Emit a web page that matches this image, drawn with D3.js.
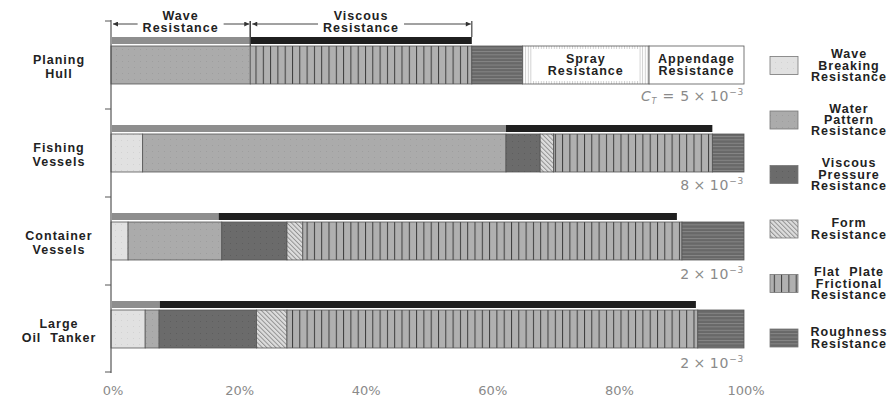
<!DOCTYPE html>
<html lang="en">
<head>
<meta charset="utf-8">
<title>Resistance components by ship type</title>
<script src="https://d3js.org/d3.v7.min.js"></script>
<style>
  body { margin: 0; background: #fff; }
  svg text { font-family: "DejaVu Sans", "Liberation Sans", sans-serif; }
  svg text.lbl { font-family: "Liberation Sans", Arial, sans-serif; font-weight: bold; font-size: 12.5px; letter-spacing: 1px; fill: #222; }
</style>
</head>
<body>
<div class="chart"></div>
<script>
// categories (top to bottom), "\n" = line break in label
const categories = ["Planing\nHull", "Fishing\nVessels", "Container\nVessels", "Large\nOil  Tanker"];

// share of total resistance, %
const waveBreaking    = [0,    5,    2.7,  5.4];
const waterPattern    = [22,   57.4, 14.8, 2.2];
const viscousPressure = [0,    5.4,  10.3, 15.4];
const form            = [0,    2.1,  2.5,  4.8];
const flatPlate       = [35,   25.1, 59.9, 64.9];
const roughness       = [8,    5,    9.8,  7.3];
const spray           = [20,   0,    0,    0];
const appendage       = [15,   0,    0,    0];

// thin bar above: wave resistance / viscous resistance
const waveTotal    = [22,   62.4, 17,   7.7];
const viscousTotal = [35,   32.6, 72.4, 84.7];

// total resistance coefficient C_T (x 10^-3)
const ctValue = [5, 8, 2, 2];

const xTicks = [0, 20, 40, 60, 80, 100];

const keys = ["waveBreaking", "waterPattern", "viscousPressure", "form", "flatPlate", "roughness", "spray", "appendage"];
const legendNames = ["Wave\nBreaking\nResistance", "Water\nPattern\nResistance", "Viscous\nPressure\nResistance",
                     "Form\nResistance", "Flat  Plate\nFrictional\nResistance", "Roughness\nResistance"];

const rows = categories.map((c, i) => ({
  cat: c,
  waveBreaking: waveBreaking[i], waterPattern: waterPattern[i], viscousPressure: viscousPressure[i],
  form: form[i], flatPlate: flatPlate[i], roughness: roughness[i], spray: spray[i], appendage: appendage[i],
  waveT: waveTotal[i], viscT: viscousTotal[i]
}));

const width = 893, height = 399;
const svg = d3.select(".chart").append("svg")
  .attr("width", width).attr("height", height);

const x = d3.scaleLinear().domain([0, 100]).range([111, 744]);
const y = d3.scaleBand().domain(categories).range([21, 373]).paddingInner(0);

// fills / patterns
const defs = svg.append("defs");
function pat(id, w, h, bg, draw, transform) {
  const p = defs.append("pattern").attr("id", id)
    .attr("patternUnits", "userSpaceOnUse").attr("width", w).attr("height", h);
  if (transform) p.attr("patternTransform", transform);
  p.append("rect").attr("width", w).attr("height", h).attr("fill", bg);
  draw(p);
}
pat("pWaveB", 6, 6, "#e1e1e1", p => p.append("rect").attr("x", 1).attr("y", 2).attr("width", 1).attr("height", 1).attr("fill", "#d2d2d2"));
pat("pWater", 6, 6, "#ababab", p => p.append("rect").attr("x", 2).attr("y", 1).attr("width", 1).attr("height", 1).attr("fill", "#9e9e9e"));
pat("pVisc", 6, 6, "#6b6b6b", p => p.append("rect").attr("x", 2).attr("y", 3).attr("width", 1).attr("height", 1).attr("fill", "#5e5e5e"));
pat("pForm", 3.2, 10, "#dddddd", p => p.append("line").attr("x1", 0.5).attr("x2", 0.5).attr("y1", 0).attr("y2", 10)
  .attr("stroke", "#8a8a8a").attr("stroke-width", 0.9), "rotate(-45)");
pat("pFlat", 7.3, 10, "#b0b0b0", p => p.append("line").attr("x1", 0.5).attr("x2", 0.5).attr("y1", 0).attr("y2", 10)
  .attr("stroke", "#3c3c3c").attr("stroke-width", 1));
pat("pRough", 6, 3.4, "#686868", p => p.append("line").attr("x1", 0).attr("x2", 6).attr("y1", 0.5).attr("y2", 0.5)
  .attr("stroke", "#909090").attr("stroke-width", 0.8));
pat("pSpray", 2.6, 10, "#ffffff", p => p.append("line").attr("x1", 0.5).attr("x2", 0.5).attr("y1", 0).attr("y2", 10)
  .attr("stroke", "#b8b8b8").attr("stroke-width", 0.7));

const fills = {
  waveBreaking: "url(#pWaveB)", waterPattern: "url(#pWater)", viscousPressure: "url(#pVisc)",
  form: "url(#pForm)", flatPlate: "url(#pFlat)", roughness: "url(#pRough)",
  spray: "url(#pSpray)", appendage: "#ffffff"
};

const thinY = 16, thinH = 7, mainY = 25, mainH = 38;

// thin bars (wave / viscous)
const thin = svg.append("g");
thin.selectAll(".tw").data(rows).join("rect")
  .attr("x", x(0) + 1).attr("y", d => y(d.cat) + thinY)
  .attr("width", d => x(d.waveT) - x(0) - 1).attr("height", thinH)
  .attr("fill", "#8e8e8e");
thin.selectAll(".tv").data(rows).join("rect")
  .attr("x", d => x(d.waveT)).attr("y", d => y(d.cat) + thinY)
  .attr("width", d => x(d.waveT + d.viscT) - x(d.waveT)).attr("height", thinH)
  .attr("fill", "#1f1f1f");

// stacked main bars
const stack = d3.stack().keys(keys)(rows);
const bars = svg.append("g");
stack.forEach(layer => {
  bars.selectAll(".s-" + layer.key).data(layer.filter(d => d[1] - d[0] > 0)).join("rect")
    .attr("x", d => x(d[0])).attr("y", d => y(d.data.cat) + mainY)
    .attr("width", d => x(d[1]) - x(d[0])).attr("height", mainH)
    .attr("fill", fills[layer.key])
    .attr("stroke", "#555").attr("stroke-width", 0.8);
});

// white centre of spray block, leaving the fine ticks at the edges
const sprayLayer = stack.find(s => s.key === "spray");
bars.selectAll(".spray-in").data(sprayLayer.filter(d => d[1] - d[0] > 0)).join("rect")
  .attr("x", d => x(d[0]) + 10).attr("y", d => y(d.data.cat) + mainY + 3)
  .attr("width", d => x(d[1]) - x(d[0]) - 20).attr("height", mainH - 6)
  .attr("fill", "#fff");

// labels inside the planing hull bar
[["spray", "Spray\nResistance"], ["appendage", "Appendage\nResistance"]].forEach(([k, label]) => {
  const layer = stack.find(s => s.key === k);
  layer.filter(d => d[1] - d[0] > 0).forEach(d => {
    const t = svg.append("text").attr("class", "lbl").attr("text-anchor", "middle");
    label.split("\n").forEach((line, j) => {
      t.append("tspan").attr("x", (x(d[0]) + x(d[1])) / 2)
        .attr("y", y(d.data.cat) + mainY + mainH / 2 - 2 + j * 12).text(line);
    });
  });
});

// y axis
const axis = svg.append("g").attr("stroke", "#555");
axis.append("line").attr("x1", x(0)).attr("x2", x(0)).attr("y1", y.range()[0] - 1).attr("y2", y.range()[1])
  .attr("stroke-width", 1.2);
const bounds = categories.map(c => y(c)).concat([y.range()[1] - 1]);
axis.selectAll(".tk").data(bounds).join("line")
  .attr("x1", x(0) - 6).attr("x2", x(0)).attr("y1", d => d).attr("y2", d => d).attr("stroke-width", 1);

// category labels
categories.forEach(c => {
  const lines = c.split("\n");
  const t = svg.append("text").attr("class", "lbl").attr("text-anchor", "middle").attr("xml:space", "preserve");
  const mid = y(c) + mainY + mainH / 2 + 1;
  lines.forEach((line, j) => {
    t.append("tspan").attr("x", 59).attr("y", mid - 2 + j * 13.5).text(line);
  });
});

// x tick labels
svg.append("g").selectAll("text").data(xTicks).join("text")
  .attr("x", d => x(d) + 2).attr("y", 395)
  .attr("text-anchor", "middle").attr("font-size", 13).attr("fill", "#8a8a8a")
  .text(d => d + "%");

// C_T labels
rows.forEach((d, i) => {
  const t = svg.append("text").attr("x", x(100)).attr("y", y(d.cat) + 80 + i * 1)
    .attr("text-anchor", "end").attr("font-size", 14).attr("letter-spacing", 0.8).attr("fill", "#8a8a8a");
  if (i === 0) {
    t.append("tspan").attr("font-style", "italic").text("C");
    t.append("tspan").attr("font-size", 8).attr("font-style", "italic").attr("dy", 3).text("T");
    t.append("tspan").attr("dy", -3).text(" = ");
  }
  t.append("tspan").text(ctValue[i] + "\u2009×\u200910");
  t.append("tspan").attr("font-size", 9).attr("dy", -6).text("−3");
});

// brackets above the planing hull bar
const p0 = rows[0];
const brackets = [
  { name: "Wave\nResistance", a: 0, b: p0.waveT },
  { name: "Viscous\nResistance", a: p0.waveT, b: p0.waveT + p0.viscT }
];
defs.append("marker").attr("id", "arr").attr("viewBox", "0 0 10 10")
  .attr("refX", 10).attr("refY", 5).attr("markerWidth", 7).attr("markerHeight", 5)
  .attr("orient", "auto-start-reverse").attr("markerUnits", "userSpaceOnUse")
  .append("path").attr("d", "M0,0L10,5L0,10z").attr("fill", "#333");

const br = svg.append("g");
brackets.forEach(bk => {
  const xa = x(bk.a) + 1, xb = x(bk.b), cx = (x(bk.a) + x(bk.b)) / 2;
  const t = br.append("text").attr("class", "lbl").attr("text-anchor", "middle");
  bk.name.split("\n").forEach((line, j) => {
    t.append("tspan").attr("x", cx).attr("y", 20 + j * 12).text(line);
  });
  const half = t.node().getBBox().width / 2 + 5;
  br.append("line").attr("x1", cx - half).attr("x2", xa + 1).attr("y1", 24).attr("y2", 24)
    .attr("stroke", "#444").attr("stroke-width", 1).attr("marker-end", "url(#arr)");
  br.append("line").attr("x1", cx + half).attr("x2", xb - 1).attr("y1", 24).attr("y2", 24)
    .attr("stroke", "#444").attr("stroke-width", 1).attr("marker-end", "url(#arr)");
  if (bk.a > 0) br.append("line").attr("x1", xa - 1).attr("x2", xa - 1).attr("y1", 21).attr("y2", y(p0.cat) + mainY)
    .attr("stroke", "#444").attr("stroke-width", 1.2);
  br.append("line").attr("x1", xb).attr("x2", xb).attr("y1", 21).attr("y2", y(p0.cat) + thinY)
    .attr("stroke", "#444").attr("stroke-width", 1.2);
});

// legend
const legend = svg.append("g");
legendNames.forEach((name, i) => {
  const cy = 65.5 + i * 54.5;
  legend.append("rect").attr("x", 770).attr("y", cy - 9).attr("width", 28).attr("height", 18)
    .attr("fill", fills[keys[i]]).attr("stroke", "#777").attr("stroke-width", 0.8);
  const lines = name.split("\n");
  const t = legend.append("text").attr("class", "lbl").attr("text-anchor", "middle").attr("xml:space", "preserve");
  lines.forEach((line, j) => {
    t.append("tspan").attr("x", 849).attr("y", cy + 4 + (j - (lines.length - 1) / 2) * 11.2).text(line);
  });
});
</script>
</body>
</html>
